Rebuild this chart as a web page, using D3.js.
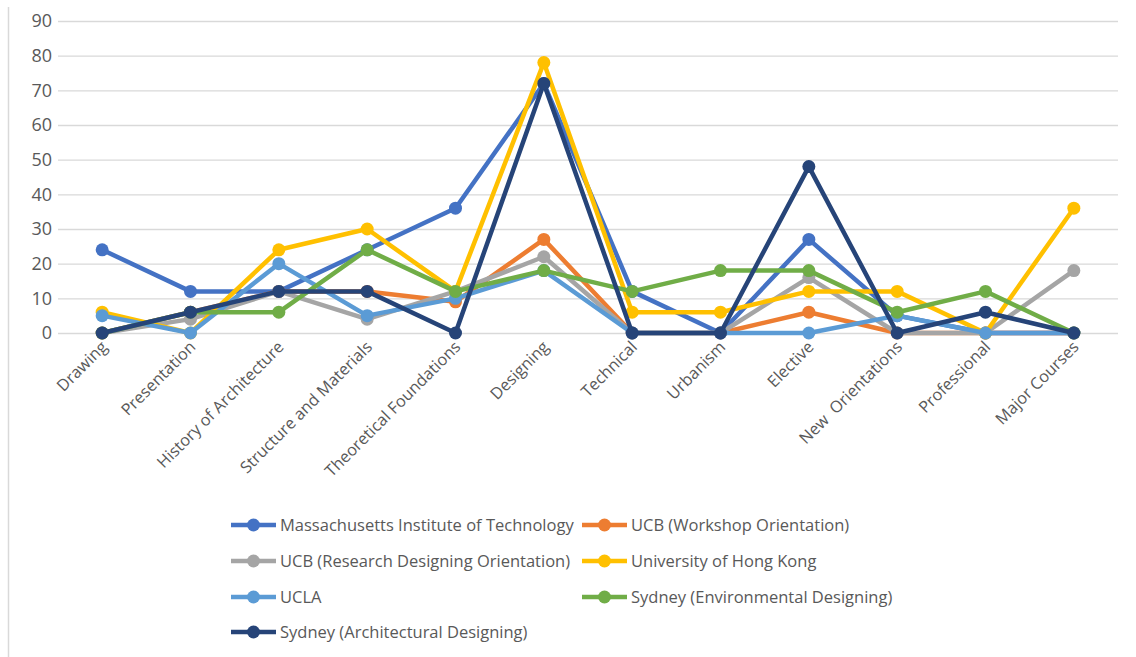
<!DOCTYPE html>
<html>
<head>
<meta charset="utf-8">
<script src="https://cdn.jsdelivr.net/npm/d3@7"></script>
<style>
  html, body { margin: 0; padding: 0; background: #fff; }
  svg { display: block; }
  text { font-family: "Open Sans", "Noto Sans", sans-serif; fill: #595959; }
</style>
</head>
<body>
<svg id="chart" width="1136" height="657"></svg>
<script>
// Course categories along the x axis
const categories = [
  "Drawing", "Presentation", "History of Architecture", "Structure and Materials",
  "Theoretical Foundations", "Designing", "Technical", "Urbanism", "Elective",
  "New  Orientations", "Professional", "Major Courses"
];

// Share of each course group per school
const mit         = [24, 12, 12, 24, 36, 72, 12, 0, 27, 5, 0, 0];
const ucbWorkshop = [0, 6, 12, 12, 9, 27, 0, 0, 6, 0, 0, 0];
const ucbResearch = [0, 4, 12, 4, 12, 22, 0, 0, 16, 0, 0, 18];
const hku         = [6, 0, 24, 30, 12, 78, 6, 6, 12, 12, 0, 36];
const ucla        = [5, 0, 20, 5, 10, 18, 0, 0, 0, 5, 0, 0];
const sydneyEnv   = [0, 6, 6, 24, 12, 18, 12, 18, 18, 6, 12, 0];
const sydneyArch  = [0, 6, 12, 12, 0, 72, 0, 0, 48, 0, 6, 0];

const seriesNames = [
  "Massachusetts Institute of Technology", "UCB (Workshop Orientation)",
  "UCB (Research Designing Orientation)", "University of Hong Kong",
  "UCLA", "Sydney (Environmental Designing)", "Sydney (Architectural Designing)"
];
const seriesValues = [mit, ucbWorkshop, ucbResearch, hku, ucla, sydneyEnv, sydneyArch];
const seriesColors = ["#4472C4", "#ED7D31", "#A5A5A5", "#FFC000", "#5B9BD5", "#70AD47", "#264478"];

const yTicks = [0, 10, 20, 30, 40, 50, 60, 70, 80, 90];

const svg = d3.select("#chart");

// Chart frame edge on the left
svg.append("line")
  .attr("x1", 8.5).attr("x2", 8.5).attr("y1", 7).attr("y2", 657)
  .attr("stroke", "#d9d9d9").attr("stroke-width", 1.5);

const plot = { left: 58, right: 1118, top: 21, bottom: 333 };

const x = d3.scalePoint().domain(categories)
  .range([plot.left, plot.right]).padding(0.5);
const y = d3.scaleLinear().domain([0, 90]).range([plot.bottom, plot.top]);

// Horizontal gridlines with value labels
const yAxis = d3.axisLeft(y).tickValues(yTicks)
  .tickSize(-(plot.right - plot.left)).tickPadding(6);
const gy = svg.append("g")
  .attr("transform", `translate(${plot.left},0)`)
  .call(yAxis);
gy.select(".domain").remove();
gy.selectAll(".tick line").attr("stroke", "#d9d9d9").attr("stroke-width", 1.3);
gy.selectAll(".tick text")
  .attr("x", -6)
  .style("font-size", "18px").style("fill", "#595959")
  .attr("font-family", null);

// Rotated category labels
const gx = svg.append("g");
gx.selectAll("text").data(categories).join("text")
  .attr("transform", d => `translate(${x(d) + 6},${plot.bottom + 15}) rotate(-45)`)
  .attr("text-anchor", "end")
  .style("font-size", "16.3px")
  .style("white-space", "pre")
  .text(d => d);

// Lines with circular markers, one group per school
const line = d3.line().x((d, i) => x(categories[i])).y(d => y(d));
seriesValues.forEach((vals, s) => {
  const g = svg.append("g");
  g.append("path")
    .attr("d", line(vals))
    .attr("fill", "none")
    .attr("stroke", seriesColors[s])
    .attr("stroke-width", 4.5)
    .attr("stroke-linejoin", "round");
  g.selectAll("circle").data(vals).join("circle")
    .attr("cx", (d, i) => x(categories[i]))
    .attr("cy", d => y(d))
    .attr("r", 6.5)
    .attr("fill", seriesColors[s]);
});

// Legend in two columns
const legendCols = [231, 582];
const legendRows = [525, 561, 597, 632];
const legend = svg.append("g");
seriesNames.forEach((name, i) => {
  const lx = legendCols[i % 2];
  const ly = legendRows[Math.floor(i / 2)];
  const item = legend.append("g").attr("transform", `translate(${lx},${ly})`);
  item.append("line")
    .attr("x1", 0).attr("x2", 45).attr("y1", 0).attr("y2", 0)
    .attr("stroke", seriesColors[i]).attr("stroke-width", 4.5);
  item.append("circle").attr("cx", 22.5).attr("cy", 0).attr("r", 6.5)
    .attr("fill", seriesColors[i]);
  item.append("text")
    .attr("x", 49).attr("y", 0).attr("dy", "0.35em")
    .style("font-size", "16.5px")
    .text(name);
});
</script>
</body>
</html>
